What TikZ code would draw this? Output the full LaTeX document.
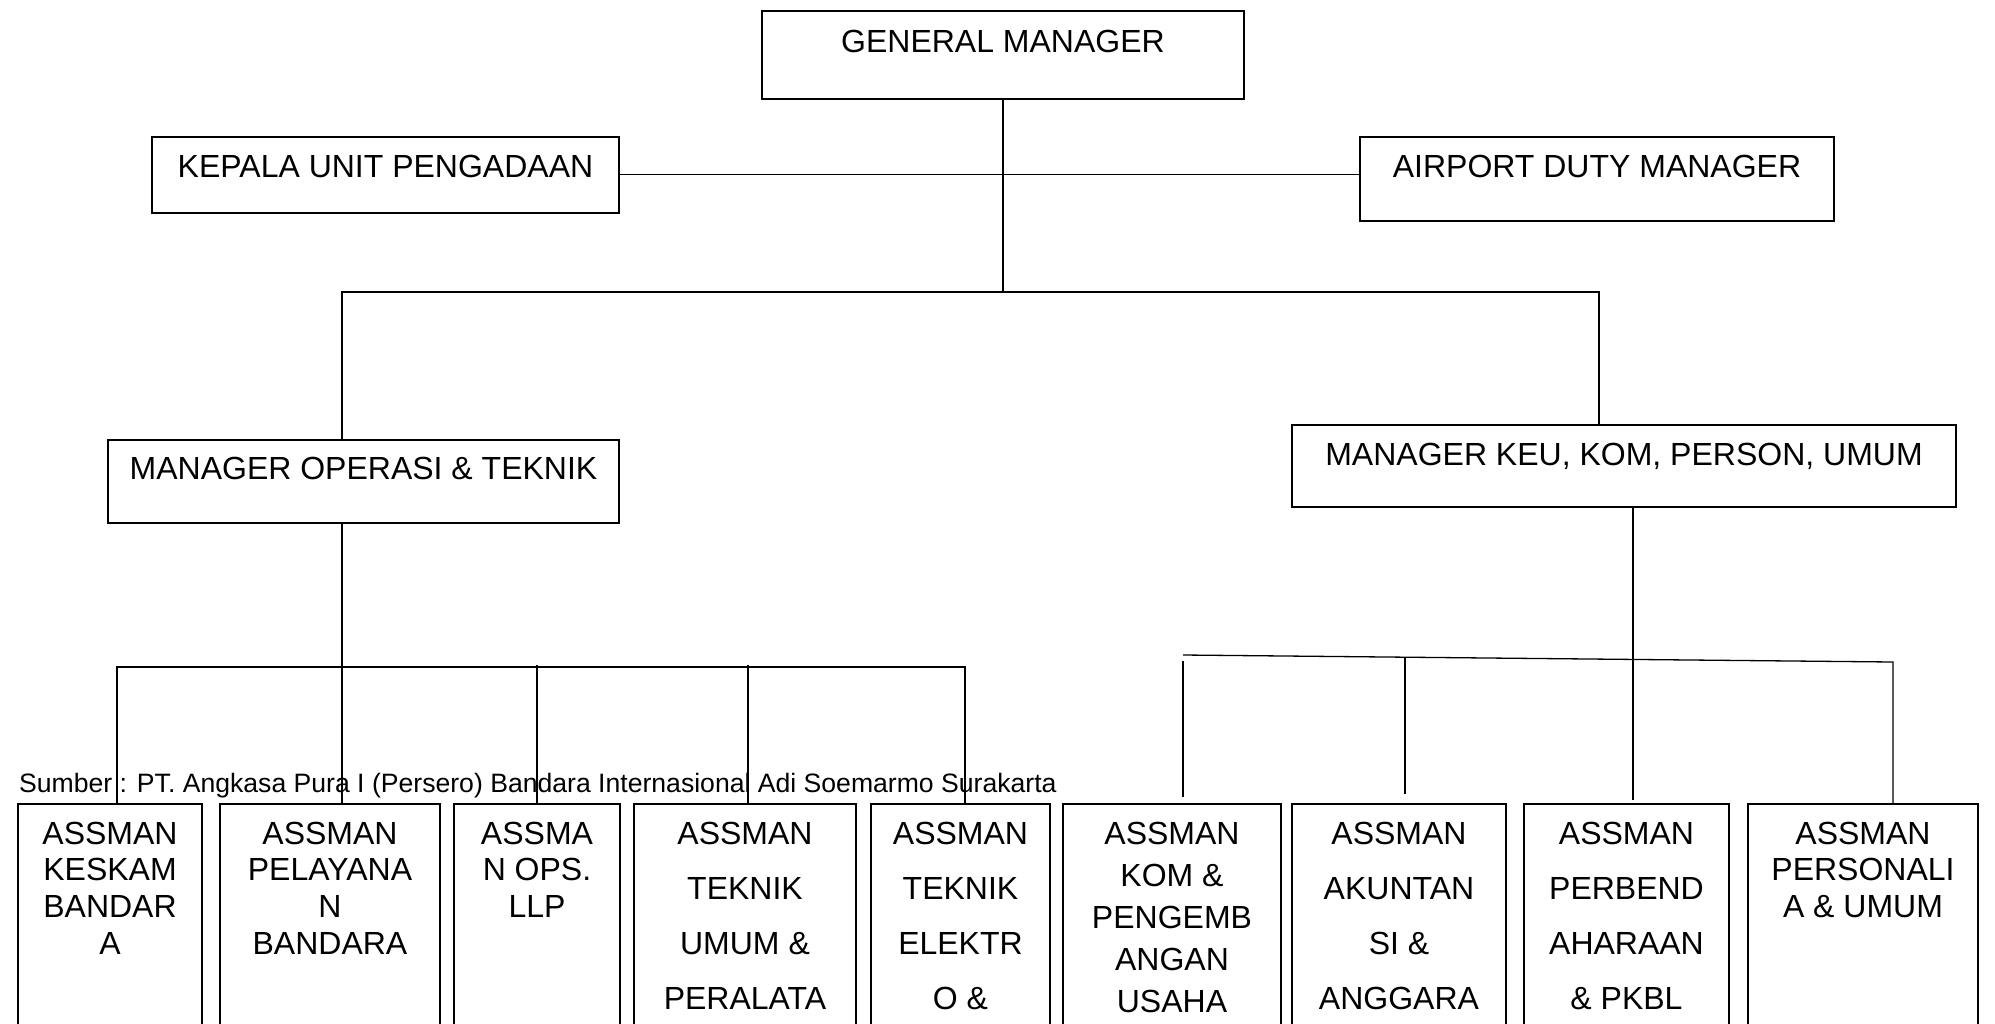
\documentclass[tikz,border=0pt]{standalone}
\usepackage{fontspec}
\setmainfont{Liberation Sans}
\newcommand{\bxt}[3]{\parbox[t]{#1pt}{\fontsize{32}{#2}\selectfont\centering #3}}
\begin{document}
\begin{tikzpicture}[x=1pt,y=-1pt,
  box/.style={draw, line width=1.6pt, inner sep=0pt, font=\fontsize{32}{36.7}\selectfont},
  conn/.style={line width=1.3pt},
  lbl/.style={inner sep=0pt, anchor=base}]
\clip (0,0) rectangle (1995,1023);
\fill[white] (0,0) rectangle (1995,1023);

% top level boxes
\node[box, anchor=north, minimum width=482pt, text height=42pt, text depth=46pt] (gm) at (1003,10) {GENERAL MANAGER};
\node[box, anchor=north, minimum width=467pt, text height=41pt, text depth=35pt] (kup) at (385.5,136) {KEPALA UNIT PENGADAAN};
\node[box, anchor=north, minimum width=474pt, text height=41pt, text depth=43pt] (adm) at (1597,136) {AIRPORT DUTY MANAGER};
\node[box, anchor=north, minimum width=511pt, text height=40pt, text depth=43pt] (mot) at (363.5,439) {MANAGER OPERASI \& TEKNIK};
\node[box, anchor=north, minimum width=664pt, text height=41pt, text depth=41pt] (mkk) at (1624,424) {MANAGER KEU, KOM, PERSON, UMUM};

% bottom boxes
\node[box, anchor=north, minimum width=184pt, minimum height=300pt] (b1) at (110,803) {};
\node[box, anchor=north, minimum width=220pt, minimum height=300pt] (b2) at (330,803) {};
\node[box, anchor=north, minimum width=166pt, minimum height=300pt] (b3) at (537,803) {};
\node[box, anchor=north, minimum width=222pt, minimum height=300pt] (b4) at (745,803) {};
\node[box, anchor=north, minimum width=179pt, minimum height=300pt] (b5) at (960.5,803) {};
\node[box, anchor=north, minimum width=218pt, minimum height=300pt] (b6) at (1172,803) {};
\node[box, anchor=north, minimum width=214pt, minimum height=300pt] (b7) at (1399,803) {};
\node[box, anchor=north, minimum width=205pt, minimum height=300pt] (b8) at (1626.5,803) {};
\node[box, anchor=north, minimum width=230pt, minimum height=300pt] (b9) at (1863,803) {};

% texts in bottom boxes
\node[lbl] (t1) at ([yshift=-41pt]b1.north) {\bxt{184}{36.7}{ASSMAN\\KESKAM\\BANDAR\\A}};
\node[lbl] (t2) at ([yshift=-41pt]b2.north) {\bxt{220}{36.7}{ASSMAN\\PELAYANA\\N\\BANDARA}};
\node[lbl] (t3) at ([yshift=-41pt]b3.north) {\bxt{166}{36.7}{ASSMA\\N OPS.\\LLP}};
\node[lbl] (t4) at ([yshift=-41pt]b4.north) {\bxt{222}{55.3}{ASSMAN\\TEKNIK\\UMUM \&\\PERALATA}};
\node[lbl] (t5) at ([yshift=-41pt]b5.north) {\bxt{179}{55.3}{ASSMAN\\TEKNIK\\ELEKTR\\O \&}};
\node[lbl] (t6) at ([yshift=-41pt]b6.north) {\bxt{218}{42}{ASSMAN\\KOM \&\\PENGEMB\\ANGAN\\USAHA}};
\node[lbl] (t7) at ([yshift=-41pt]b7.north) {\bxt{214}{55.3}{ASSMAN\\AKUNTAN\\SI \&\\ANGGARA}};
\node[lbl] (t8) at ([yshift=-41pt]b8.north) {\bxt{205}{55.3}{ASSMAN\\PERBEND\\AHARAAN\\\& PKBL}};
\node[lbl] (t9) at ([yshift=-41pt]b9.north) {\bxt{230}{36.7}{ASSMAN\\PERSONALI\\A \& UMUM}};

% source note
\node[inner sep=0pt, anchor=base west, font=\fontsize{26.6}{30}\selectfont] (src) at (19,792) {Sumber : PT. Angkasa Pura I (Persero) Bandara Internasional Adi Soemarmo Surakarta};

% connectors
\coordinate (bl) at (342,292);
\coordinate (br) at (1599,292);
\draw[conn] (gm.south) -- (gm.south |- bl);
\draw[conn] (kup.east) -- (kup.east -| adm.west);
\draw[conn] (mot.north -| bl) -- (bl) -- (br) -- (br |- mkk.north);
\draw[conn] (mot.south -| bl) -- (b2.north -| bl);

\coordinate (ll) at (117,667);
\coordinate (lr) at (965,667);
\coordinate (d3) at (537,665);
\coordinate (d4) at (748,665);
\draw[conn] (b1.north -| ll) -- (ll) -- (lr) -- (b5.north -| lr);
\draw[conn] (d3) -- (d3 |- b3.north);
\draw[conn] (d4) -- (d4 |- b4.north);

\coordinate (rl) at (1183,655);
\coordinate (rr) at (1893,662);
\coordinate (d6) at (1183,661);
\coordinate (e6) at (1183,797);
\coordinate (d7) at (1405,658);
\coordinate (e7) at (1405,794);
\coordinate (e8) at (1633,800);
\draw[conn] (rl) -- (rr) -- (rr |- b9.north);
\draw[conn] (d6) -- (e6);
\draw[conn] (d7) -- (e7);
\draw[conn] (mkk.south -| e8) -- (e8);
\end{tikzpicture}
\end{document}
